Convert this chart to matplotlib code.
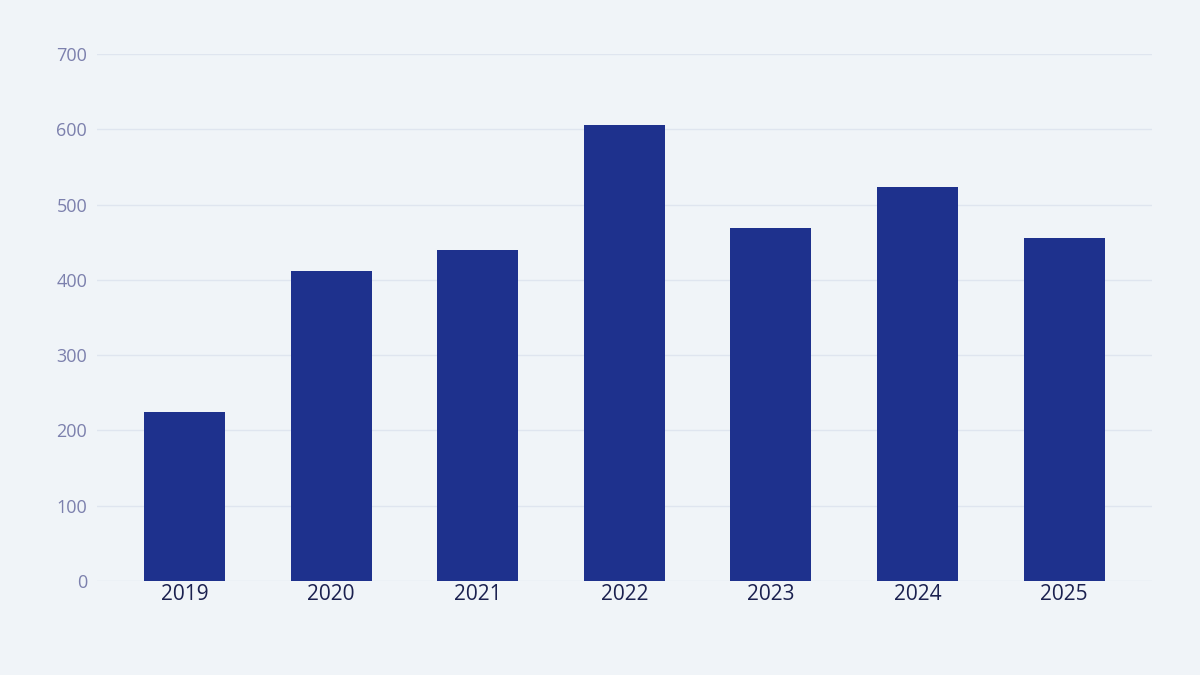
import matplotlib
matplotlib.use("Agg")
import matplotlib.pyplot as plt

years = ["2019", "2020", "2021", "2022", "2023", "2024", "2025"]
values = [225, 412, 440, 606, 469, 523, 456]
y_ticks = [0, 100, 200, 300, 400, 500, 600, 700]

BG = "#f0f4f8"
BAR = "#1e318d"

plt.rcParams['font.family'] = ['Open Sans', 'DejaVu Sans']

fig = plt.figure(figsize=(12, 6.75), dpi=100, facecolor=BG)
ax = fig.add_axes([0.0808, 0.1393, 0.8792, 0.7807], facecolor=BG)

ax.bar(range(len(years)), values, width=0.553, color=BAR, zorder=3)

ax.set_xlim(-0.597, 6.6)
ax.set_ylim(0, 700)
ax.set_yticks(y_ticks)
ax.set_xticks(range(len(years)))
ax.set_xticklabels(years)

ax.grid(axis='y', color='#dfe5ef', linewidth=1, zorder=0)
for s in ax.spines.values():
    s.set_visible(False)
ax.tick_params(axis='y', length=0, pad=7, labelsize=13, labelcolor='#7c80ad')
ax.tick_params(axis='x', length=0, pad=2, labelsize=15, labelcolor='#1b2150')

fig.savefig("out.png", dpi=100, facecolor=BG)
